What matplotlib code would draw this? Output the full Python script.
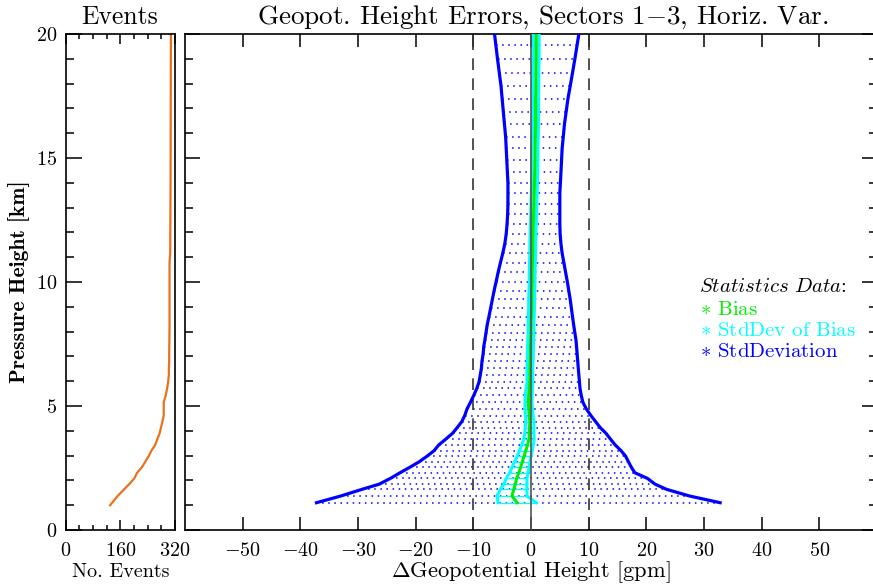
import numpy as np
import matplotlib
matplotlib.use("Agg")
import matplotlib.pyplot as plt
from matplotlib.ticker import MultipleLocator, FixedLocator

# profile levels (km) and statistics
levels_km = [1.10, 1.37, 1.64, 1.85, 2.08, 2.31, 2.53, 2.75, 2.98, 3.20,
             3.43, 3.66, 3.90, 4.13, 4.37, 4.61, 4.88, 5.15, 5.44, 5.71,
             5.98, 6.25, 6.52, 6.81, 7.10, 7.39, 7.66, 7.96, 8.27, 8.60,
             8.95, 9.30, 9.65, 10.01, 10.39, 10.78, 11.16, 11.53, 11.94, 12.34,
             12.74, 13.15, 13.58, 14.00, 14.45, 14.92, 15.39, 15.86, 16.36, 16.87,
             17.38, 17.90, 18.44, 18.98, 19.56, 20.15]

std_left = [-37.2, -33.0, -29.3, -26.3, -24.4, -22.7, -21.0, -19.4, -18.0, -16.8,
            -16.0, -14.8, -13.6, -12.8, -12.0, -11.5, -11.1, -10.5, -9.9, -9.4,
            -9.0, -8.8, -8.6, -8.5, -8.3, -8.2, -8.0, -7.8, -7.6, -7.3,
            -7.0, -6.7, -6.4, -6.05, -5.7, -5.3, -4.9, -4.55, -4.3, -4.15,
            -4.05, -4.0, -4.0, -4.0, -4.1, -4.2, -4.3, -4.4, -4.6, -4.8,
            -5.0, -5.2, -5.5, -5.8, -6.1, -6.4]

std_right = [32.8, 27.5, 23.5, 21.5, 20.2, 18.0, 17.4, 16.9, 16.4, 15.6,
             14.6, 13.8, 13.0, 12.0, 11.2, 10.4, 9.6, 9.0, 8.7, 8.5,
             8.4, 8.3, 8.2, 8.1, 8.0, 7.9, 7.8, 7.6, 7.4, 7.2,
             7.0, 6.8, 6.55, 6.3, 6.0, 5.7, 5.4, 5.2, 5.05, 5.0,
             5.0, 5.0, 5.0, 5.1, 5.2, 5.3, 5.4, 5.6, 5.8, 6.1,
             6.4, 6.8, 7.2, 7.6, 8.0, 8.4]

bias = [-2.4, -3.3, -3.0, -2.7, -2.5, -2.1, -1.8, -1.5, -1.2, -0.9,
        -0.6, -0.35, -0.3, -0.25, -0.2, -0.3, -0.4, -0.45, -0.4, -0.3,
        -0.2, -0.2, -0.2, -0.15, -0.1, -0.1, -0.05, 0.0, 0.0, 0.05,
        0.1, 0.1, 0.15, 0.2, 0.2, 0.25, 0.3, 0.3, 0.35, 0.4,
        0.45, 0.5, 0.55, 0.6, 0.65, 0.7, 0.7, 0.75, 0.8, 0.8,
        0.8, 0.85, 0.85, 0.9, 0.9, 0.9]

std_bias = [3.3, 2.6, 2.3, 2.0, 1.8, 1.6, 1.5, 1.35, 1.2, 1.1,
            1.0, 0.9, 0.8, 0.75, 0.7, 0.65, 0.65, 0.6, 0.6, 0.55,
            0.5, 0.5, 0.5, 0.5, 0.5, 0.5, 0.5, 0.5, 0.5, 0.5,
            0.5, 0.5, 0.5, 0.5, 0.5, 0.5, 0.5, 0.5, 0.5, 0.5,
            0.5, 0.5, 0.5, 0.5, 0.5, 0.5, 0.5, 0.5, 0.5, 0.5,
            0.5, 0.5, 0.5, 0.5, 0.5, 0.5]

events_km = [1.00, 1.10, 1.37, 1.64, 1.85, 2.08, 2.31, 2.53, 2.75, 2.98,
             3.20, 3.43, 3.66, 3.90, 4.13, 4.37, 4.61, 4.88, 5.15, 5.44,
             5.71, 5.98, 6.25, 6.52, 6.81, 7.10, 8.27, 10.78, 11.16, 14.00, 20.15]
events_n = [130, 136, 152, 171, 186, 201, 209, 223, 233, 243,
            251, 262, 268, 275, 279, 283, 287, 287, 287, 293,
            297, 300, 302, 302, 303, 303, 304, 304, 306, 307, 308]

ev_ticks = [0, 160, 320]
gph_ticks = [-50, -40, -30, -20, -10, 0, 10, 20, 30, 40, 50]

plt.rcParams.update({
    "font.family": "serif",
    "font.serif": ["cmr10"],
    "mathtext.fontset": "cm",
    "axes.formatter.use_mathtext": True,
    "axes.linewidth": 1.2,
})

W, H = 873, 588
fig = plt.figure(figsize=(W / 100, H / 100), dpi=100)


def fx(x):
    return x / W


def fy(y):
    return 1 - y / H


ax_ev = fig.add_axes([fx(65.7), fy(530), 109.3 / W, 496 / H])
ax = fig.add_axes([fx(185), fy(530), 692 / W, 496 / H])

# --- events panel
ax_ev.plot(events_n, events_km, color="#e8711c", lw=1.6)
ax_ev.set_xlim(0, 320)
ax_ev.set_ylim(0, 20)
ax_ev.xaxis.set_major_locator(FixedLocator(ev_ticks))
ax_ev.xaxis.set_minor_locator(MultipleLocator(40))
ax_ev.yaxis.set_major_locator(MultipleLocator(5))
ax_ev.yaxis.set_minor_locator(MultipleLocator(1))
ax_ev.tick_params(which="both", direction="in", top=True, right=False,
                  width=1.1, labelsize=14.5)
ax_ev.tick_params(axis="x", which="major", length=7.5, pad=9)
ax_ev.tick_params(axis="x", which="minor", length=3.5)
ax_ev.tick_params(axis="y", which="major", length=11.5, pad=6)
ax_ev.tick_params(axis="y", which="minor", length=5.5)
ax_ev.set_xlabel("No. Events", fontsize=14.5, labelpad=2)
ax_ev.set_ylabel("Pressure Height [km]", fontsize=15.5, labelpad=4,
                 family="cmb10")

# --- main panel
lv = np.array(levels_km)
bl = np.array(bias)
sb = np.array(std_bias)

ax.hlines(lv, std_left, std_right, colors="blue", lw=1.1,
          linestyles=[(0, (1, 3))], zorder=1)
ax.plot(std_left, lv, color="blue", lw=2.3, zorder=3)
ax.plot(std_right, lv, color="blue", lw=2.3, zorder=3)

ax.hlines(lv, bl - sb, bl + sb, colors="cyan", lw=0.9, zorder=4)
ax.plot(bl - sb, lv, color="cyan", lw=2.2, zorder=4)
ax.plot(bl + sb, lv, color="cyan", lw=2.2, zorder=4)
ax.plot(bl, lv, color="#00ee00", lw=2.2, zorder=5)

ax.axvline(0, color="#555555", lw=1.2, zorder=6)
for xv in (-10, 10):
    ax.axvline(xv, color="#333333", lw=1.2, linestyle=(0, (7, 5)), zorder=2)

ax.set_xlim(-60, 60)
ax.set_ylim(0, 20)
ax.xaxis.set_major_locator(FixedLocator(gph_ticks))
ax.yaxis.set_major_locator(MultipleLocator(5))
ax.yaxis.set_minor_locator(MultipleLocator(1))
ax.tick_params(which="both", direction="in", top=True, right=True,
               width=1.1, labelsize=14.5, labelleft=False)
ax.tick_params(axis="x", which="major", length=9.5, pad=9)
ax.tick_params(axis="y", which="major", length=11)
ax.tick_params(axis="y", which="minor", length=5.5)
ax.set_xlabel(r"$\Delta$Geopotential Height [gpm]", fontsize=16.2, labelpad=-1)

# titles
fig.text(fx(120), fy(17), "Events", fontsize=18.5, ha="center", va="center")
fig.text(fx(543), fy(17), r"Geopot. Height Errors, Sectors 1$-$3, Horiz. Var.",
         fontsize=19.5, ha="center", va="center")

# legend
fig.text(fx(699), fy(287), r"$\mathit{Statistics\ Data}$:", fontsize=15,
         ha="left", va="center")
fig.text(fx(700), fy(310), r"$\ast$ Bias", color="#00ee00", fontsize=15,
         ha="left", va="center")
fig.text(fx(700), fy(331), r"$\ast$ StdDev of Bias", color="cyan", fontsize=15,
         ha="left", va="center")
fig.text(fx(700), fy(352), r"$\ast$ StdDeviation", color="blue", fontsize=15,
         ha="left", va="center")

fig.savefig("out.png", dpi=100)
